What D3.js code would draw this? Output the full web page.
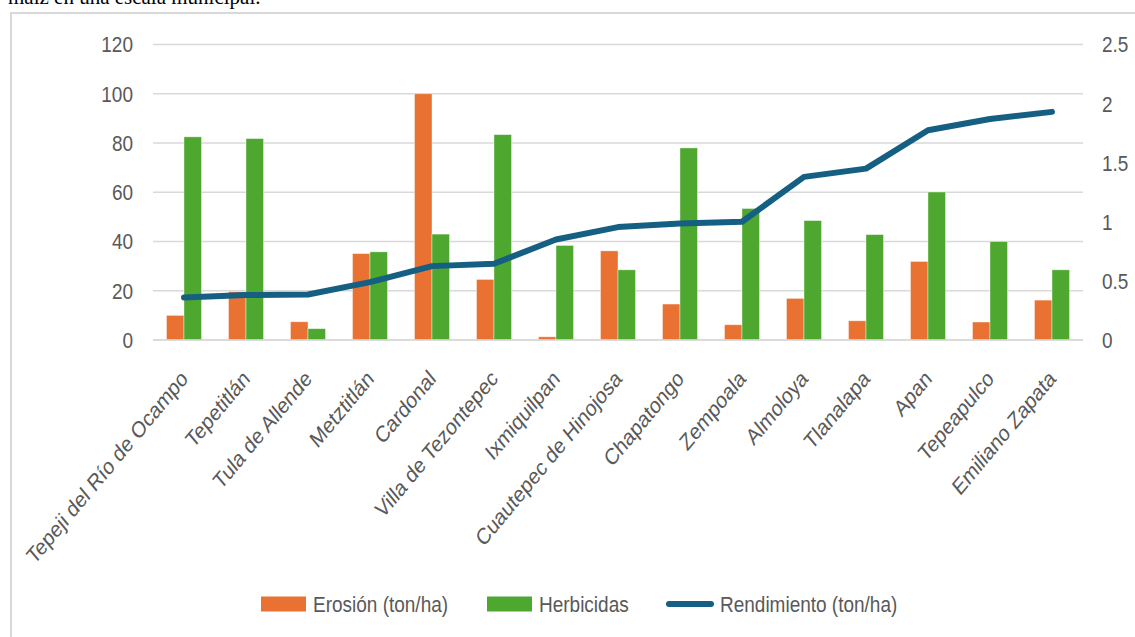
<!DOCTYPE html>
<html>
<head>
<meta charset="utf-8">
<script src="https://cdn.jsdelivr.net/npm/d3@7"></script>
<style>
  html, body { margin: 0; padding: 0; background: #fff; }
  svg { display: block; }
  .tick text { font-family: "Liberation Sans", Arial, sans-serif; fill: #595959; }
</style>
</head>
<body>
<svg id="chart" width="1135" height="637"></svg>
<script>
// Municipios (eje X)
const municipios = [
  "Tepeji del Río de Ocampo", "Tepetitlán", "Tula de Allende", "Metztitlán",
  "Cardonal", "Villa de Tezontepec", "Ixmiquilpan", "Cuautepec de Hinojosa",
  "Chapatongo", "Zempoala", "Almoloya", "Tlanalapa", "Apan", "Tepeapulco",
  "Emiliano Zapata"
];
// Erosión (ton/ha) – eje izquierdo
const erosion = [10, 19.6, 7.4, 35.1, 100, 24.6, 1.3, 36.2, 14.6, 6.2, 16.9, 7.8, 31.9, 7.3, 16.2];
// Herbicidas – eje izquierdo
const herbicidas = [82.5, 81.8, 4.6, 35.8, 43, 83.4, 38.4, 28.5, 78, 53.4, 48.5, 42.8, 60.1, 40, 28.5];
// Rendimiento (ton/ha) – eje derecho
const rendimiento = [0.36, 0.38, 0.385, 0.49, 0.625, 0.645, 0.85, 0.955, 0.985, 1.0, 1.38, 1.45, 1.775, 1.87, 1.93];
// Marcas de los ejes
const ticksIzq = [0, 20, 40, 60, 80, 100, 120];
const ticksDer = [0, 0.5, 1, 1.5, 2, 2.5];

const series = [
  { name: "Erosión (ton/ha)", color: "#E97132" },
  { name: "Herbicidas", color: "#4EA72E" },
  { name: "Rendimiento (ton/ha)", color: "#156082" }
];

const svg = d3.select("#chart");
const font = '"Liberation Sans", Arial, sans-serif';
const stretch = 1.2;   // el texto del gráfico es algo más alto que ancho

// texto del documento que precede al gráfico (recortado arriba)
svg.append("text")
  .attr("x", 8).attr("y", 4)
  .attr("font-family", '"Liberation Serif", serif')
  .attr("font-size", 21)
  .attr("fill", "#000")
  .text("maíz en una escala municipal.");

// marco del área del gráfico
svg.append("path")
  .attr("d", "M11,637 L11,13 L1135,13")
  .attr("fill", "none")
  .attr("stroke", "#d9d9d9")
  .attr("stroke-width", 2);

const plotL = 153, plotR = 1083, plotT = 44.5, plotB = 340;

const x = d3.scaleBand().domain(municipios).range([plotL, plotR]).paddingInner(0.435).paddingOuter(0.2175);
const yL = d3.scaleLinear().domain([0, 120]).range([plotB, plotT]);
const yR = d3.scaleLinear().domain([0, 2.5]).range([plotB, plotT]);
const xs = d3.scaleBand().domain([0, 1]).range([0, x.bandwidth()]);

// cuadrícula horizontal
svg.append("g")
  .selectAll("line")
  .data(ticksIzq)
  .join("line")
  .attr("x1", plotL).attr("x2", plotR)
  .attr("y1", d => yL(d)).attr("y2", d => yL(d))
  .attr("stroke", "#d9d9d9")
  .attr("stroke-width", 1.5);

// eje izquierdo
const axL = svg.append("g")
  .attr("transform", `translate(${plotL - 20},0)`)
  .call(d3.axisLeft(yL).tickValues(ticksIzq).tickSize(0).tickPadding(0));
axL.select(".domain").remove();
axL.selectAll(".tick text")
  .attr("font-size", 19).attr("x", 0).attr("dy", "0.35em")
  .attr("transform", "scale(1,1.12)");

// eje derecho
const axR = svg.append("g")
  .attr("transform", `translate(${plotR + 19},0)`)
  .call(d3.axisRight(yR).tickValues(ticksDer).tickSize(0).tickPadding(0).tickFormat(d3.format("")));
axR.select(".domain").remove();
axR.selectAll(".tick text")
  .attr("font-size", 19).attr("x", 0).attr("dy", "0.35em")
  .attr("transform", "scale(1,1.12)");

// barras
const grupos = svg.append("g")
  .selectAll("g")
  .data(municipios.map((m, i) => ({ m, vals: [erosion[i], herbicidas[i]] })))
  .join("g")
  .attr("transform", d => `translate(${x(d.m)},0)`);

grupos.selectAll("rect")
  .data(d => d.vals.map((v, k) => ({ v, k })))
  .join("rect")
  .attr("x", d => xs(d.k))
  .attr("width", xs.bandwidth())
  .attr("y", d => yL(d.v))
  .attr("height", d => yL(0) - yL(d.v))
  .attr("fill", d => series[d.k].color)
  .attr("stroke", "#ffffff")
  .attr("stroke-opacity", 0.5)
  .attr("stroke-width", 0.8);

// eje X
svg.append("line")
  .attr("x1", plotL).attr("x2", plotR)
  .attr("y1", plotB).attr("y2", plotB)
  .attr("stroke", "#d9d9d9")
  .attr("stroke-width", 1.5);

const axX = svg.append("g")
  .attr("transform", `translate(0,${plotB})`)
  .call(d3.axisBottom(x).tickSize(0).tickPadding(0));
axX.select(".domain").remove();
axX.selectAll("text")
  .attr("font-size", 19)
  .attr("text-anchor", "end")
  .attr("dy", 0)
  .attr("y", 0)
  .attr("transform", `translate(5,40) scale(1,${stretch}) rotate(-45)`);

// línea de rendimiento
const linea = d3.line()
  .x((d, i) => x(municipios[i]) + x.bandwidth() / 2)
  .y(d => yR(d));

svg.append("path")
  .datum(rendimiento)
  .attr("d", linea)
  .attr("fill", "none")
  .attr("stroke", series[2].color)
  .attr("stroke-width", 6)
  .attr("stroke-linecap", "round")
  .attr("stroke-linejoin", "round");

// leyenda
const leg = svg.append("g").attr("font-family", font).attr("font-size", 19).attr("fill", "#595959");
const legY = 604;
const items = [
  { x: 261, k: 0, type: "rect" },
  { x: 487, k: 1, type: "rect" },
  { x: 666, k: 2, type: "line" }
];
items.forEach(it => {
  if (it.type === "rect") {
    leg.append("rect").attr("x", it.x).attr("y", legY - 7.5).attr("width", 45).attr("height", 15)
      .attr("fill", series[it.k].color);
  } else {
    leg.append("line").attr("x1", it.x + 3).attr("x2", it.x + 45).attr("y1", legY).attr("y2", legY)
      .attr("stroke", series[it.k].color).attr("stroke-width", 6).attr("stroke-linecap", "round");
  }
  leg.append("text")
    .attr("transform", `translate(${it.x + (it.type === "rect" ? 52 : 54)},${legY}) scale(1,${stretch})`)
    .attr("dy", "0.35em")
    .text(series[it.k].name);
});
</script>
</body>
</html>
